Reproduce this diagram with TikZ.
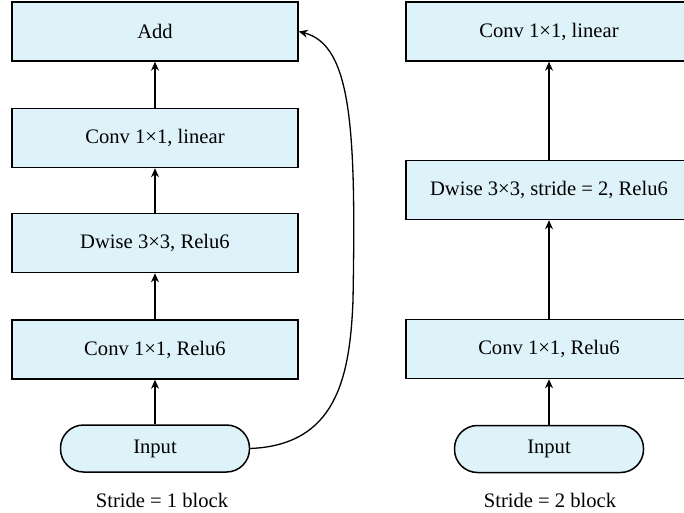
\documentclass[tikz,border=0pt]{standalone}
\usepackage{fontspec}
\setmainfont{Liberation Serif}
\usetikzlibrary{arrows.meta}
\definecolor{boxfill}{RGB}{222,242,250}
\begin{document}
\begin{tikzpicture}[x=0.5pt,y=-0.5pt,
  every node/.style={font=\fontsize{10.3}{12}\selectfont},
  blk/.style={draw=black,fill=boxfill,line width=0.75pt,minimum width=143pt,minimum height=29.5pt,inner sep=0pt},
  inbox/.style={draw=black,fill=boxfill,line width=0.75pt,rounded corners=11.5pt,minimum width=94.5pt,minimum height=23.5pt,inner sep=0pt},
  arr/.style={line width=0.65pt,-{Stealth[length=4.5pt,width=4pt]}}]
\useasboundingbox (0,0) rectangle (684,513);
\begin{scope}
\clip (0,0) rectangle (684,513);
% left column
\node[blk] (add) at (155,31.5) {Add};
\node[blk] (lin1) at (155,138) {Conv 1×1, linear};
\node[blk] (dw1) at (155,243) {Dwise 3×3, Relu6};
\node[blk] (cr1) at (155,349.5) {Conv 1×1, Relu6};
\node[inbox] (in1) at (155,448.5) {Input};
\node (lab1) at (162,500) {Stride = 1 block};
% right column
\node[blk] (lin2) at (549,31.5) {Conv 1×1, linear};
\node[blk] (dw2) at (549,190) {Dwise 3×3, stride = 2, Relu6};
\node[blk] (cr2) at (549,349) {Conv 1×1, Relu6};
\node[inbox] (in2) at (549,449) {Input};
\node (lab2) at (550,500) {Stride = 2 block};
% arrows
\draw[arr] (in1) -- (cr1);
\draw[arr] (cr1) -- (dw1);
\draw[arr] (dw1) -- (lin1);
\draw[arr] (lin1) -- (add);
\draw[arr] (in1.east) .. controls (335,445) and (350,380) .. (353,300)
  .. controls (356,130) and (352,45) .. (add.east);
\draw[arr] (in2) -- (cr2);
\draw[arr] (cr2) -- (dw2);
\draw[arr] (dw2) -- (lin2);
\end{scope}
\end{tikzpicture}
\end{document}
